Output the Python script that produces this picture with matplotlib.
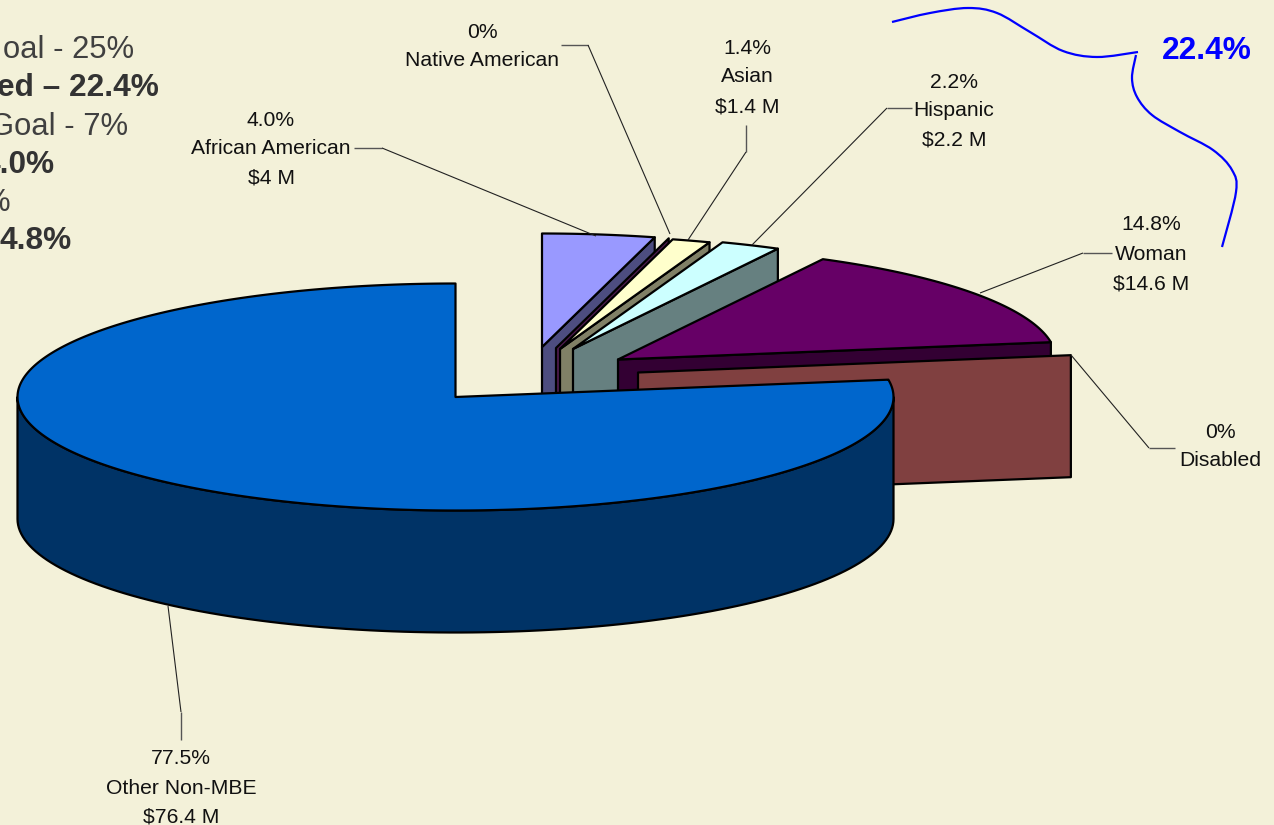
import numpy as np
import matplotlib
matplotlib.use("Agg")
import matplotlib.pyplot as plt
from matplotlib.patches import Polygon, PathPatch
from matplotlib.path import Path

plt.rcParams['font.family'] = ['Liberation Sans', 'DejaVu Sans']

# ---- data (back to front, going clockwise from the 12 o'clock split) ----
categories = ["African American", "Native American", "Asian", "Hispanic", "Woman", "Disabled", "Other Non-MBE"]
percents = [4.0, 0.0, 1.4, 2.2, 14.8, 0.0, 77.5]
pct_labels = ["4.0%", "0%", "1.4%", "2.2%", "14.8%", "0%", "77.5%"]
dollar_labels = ["$4 M", None, "$1.4 M", "$2.2 M", "$14.6 M", None, "$76.4 M"]
notes_regular = ["oal - 25%", "Goal - 7%", "%"]
notes_bold = ["ed \u2013 22.4%", "4.0%", "4.8%"]
callout = "22.4%"

# ---- styling ----
BG = "#F3F1D9"
top_colors = ["#9999FF", "#660066", "#FFFFCC", "#CCFFFF", "#660066", "#804040", "#0066CC"]
wall_colors = ["#4D4D80", "#4D1A4D", "#808066", "#668080", "#330033", "#804040", "#003366"]
apexes = [(542, 347), (556, 348), (560, 349), (573, 349), (618, 359.5), (638, 372.5), (455.5, 397)]
RX, RY, DEPTH = 438, 113.5, 122
TURN = -0.5

fig = plt.figure(figsize=(12.74, 8.25), dpi=100, facecolor=BG)
ax = fig.add_axes([0, 0, 1, 1])
ax.set_xlim(0, 1274)
ax.set_ylim(825, 0)
ax.axis("off")


def rim(apex, t):
    t = np.radians(t)
    return np.column_stack([apex[0] + RX * np.cos(t), apex[1] - RY * np.sin(t)])


def poly(pts, fc):
    ax.add_patch(Polygon(pts, closed=True, facecolor=fc, edgecolor="black", lw=1.6, joinstyle="round"))


# angles: the whole pie turns counter-clockwise from 90 deg through the big slice
total = sum(percents)
sweeps = [p / total * 360 for p in percents]
ends = {}
angle = 90 + sweeps[-1] + TURN
for i in range(5, -1, -1):
    ends[i] = (angle, angle + sweeps[i])
    angle += sweeps[i]
ends[0] = (ends[0][0], 90.0 + 360)
ends[6] = (90, 90 + sweeps[-1] + TURN)

for i in range(7):
    t0, t1 = ends[i]
    a = np.array(apexes[i], dtype=float)
    if i == 6:
        ts = np.linspace(180, 360, 120)
        r = rim(a, ts)
        poly(np.vstack([r, (r + [0, DEPTH])[::-1]]), wall_colors[i])
    else:
        p = rim(a, t0)[0]
        poly([a, p, p + [0, DEPTH], a + [0, DEPTH]], wall_colors[i])
    if t1 > t0:
        ts = np.linspace(t0, t1, max(2, int((t1 - t0) * 2)))
        poly(np.vstack([a, rim(a, ts)]), top_colors[i])

# ---- leader lines ----
leaders = [
    [(354, 148), (382, 148), (596, 236)],
    [(561, 45), (588, 45), (670, 234)],
    [(746, 125), (746, 152), (688, 240)],
    [(912, 108), (887, 108), (752, 245)],
    [(1112, 253), (1083, 253), (980, 293)],
    [(1175, 448), (1149, 448), (1071, 355)],
    [(181, 740), (181, 712), (168, 606)],
]
for pts in leaders:
    xs, ys = zip(*pts)
    ax.plot(xs[:2], ys[:2], color="#555555", lw=1.0, solid_capstyle="butt")
    ax.plot(xs[1:], ys[1:], color="#222222", lw=0.8, solid_capstyle="butt")

# ---- labels ----
label_pos = [
    (271, [120, 149, 178]),
    (482, [33, 61]),
    (747, [48, 77, 107]),
    (954, [82, 110, 140]),
    (1151, [224, 254, 284]),
    (1220, [433, 461]),
    (181, [759, 789, 817]),
]
for i, (x, ys) in enumerate(label_pos):
    lines = [pct_labels[i], categories[i]] + ([dollar_labels[i]] if dollar_labels[i] else [])
    for y, s in zip(ys, lines):
        ax.text(x, y, s, ha="center", va="center", fontsize=15.2, color="#111111", clip_on=False)

# ---- left notes, running off the edge of the picture ----
for s, y, x in zip(notes_regular, [50, 127, 203], [134, 128, 11]):
    ax.text(x, y, s, ha="right", va="center", fontsize=22.3, color="#404040")
for s, y, x in zip(notes_bold, [88, 165, 241], [159, 55, 72]):
    ax.text(x, y, s, ha="right", va="center", fontsize=22.8, color="#333333", fontweight="bold")

# ---- blue bracket and call-out ----
def smooth(points):
    pts = np.array(points, dtype=float)
    q = np.vstack([pts[0], pts, pts[-1]])
    verts = [tuple(pts[0])]
    codes = [Path.MOVETO]
    for k in range(1, len(q) - 2):
        c1 = q[k] + (q[k + 1] - q[k - 1]) / 6
        c2 = q[k + 1] - (q[k + 2] - q[k]) / 6
        verts += [tuple(c1), tuple(c2), tuple(q[k + 1])]
        codes += [Path.CURVE4] * 3
    return Path(verts, codes)


arm1 = [(892, 22), (930, 13), (968, 8), (997, 13), (1030, 32), (1063, 51), (1097, 57), (1138, 52)]
arm2 = [(1136, 55), (1132, 78), (1137, 97), (1152, 115), (1180, 132), (1213, 150), (1232, 170), (1236, 192), (1222, 247)]
for arm in (arm1, arm2):
    ax.add_patch(PathPatch(smooth(arm), fc="none", ec="#0000FF", lw=1.6))
ax.text(1207, 51, callout, ha="center", va="center", fontsize=22.8, fontweight="bold", color="#0000FF")

fig.savefig("out.png", dpi=100, facecolor=BG)
